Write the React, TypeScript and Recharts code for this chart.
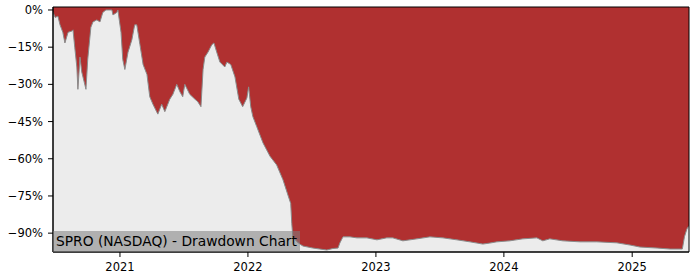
import React from "react";
import { AreaChart, Area, XAxis, YAxis, CartesianGrid, ReferenceArea } from "recharts";

const dates: string[] = [
  "2020-06-24", "2020-06-30", "2020-07-08", "2020-07-14", "2020-07-22", "2020-07-28",
  "2020-08-06", "2020-08-17", "2020-08-20", "2020-08-25", "2020-08-31", "2020-09-03",
  "2020-09-09", "2020-09-14", "2020-09-26", "2020-10-01", "2020-10-10", "2020-10-16",
  "2020-10-27", "2020-11-05", "2020-11-13", "2020-11-22", "2020-11-28", "2020-12-09",
  "2020-12-12", "2020-12-23", "2020-12-26", "2021-01-04", "2021-01-09", "2021-01-15",
  "2021-01-24", "2021-02-04", "2021-02-12", "2021-02-18", "2021-02-27", "2021-03-08",
  "2021-03-19", "2021-03-27", "2021-04-05", "2021-04-19", "2021-04-30", "2021-05-09",
  "2021-05-23", "2021-06-01", "2021-06-12", "2021-06-21", "2021-06-29", "2021-07-05",
  "2021-07-19", "2021-08-03", "2021-08-11", "2021-08-20", "2021-08-26", "2021-08-31",
  "2021-09-09", "2021-09-20", "2021-09-26", "2021-10-04", "2021-10-13", "2021-10-27",
  "2021-11-02", "2021-11-13", "2021-11-25", "2021-12-06", "2021-12-17", "2021-12-29",
  "2022-01-03", "2022-01-09", "2022-01-15", "2022-01-26", "2022-02-13", "2022-03-05",
  "2022-03-24", "2022-04-11", "2022-04-25", "2022-05-03", "2022-05-06", "2022-05-09",
  "2022-05-21", "2022-05-30", "2022-06-07", "2022-07-05", "2022-07-25", "2022-08-14",
  "2022-08-31", "2022-09-15", "2022-09-20", "2022-09-29", "2022-10-19", "2022-11-08",
  "2022-12-06", "2023-01-04", "2023-02-01", "2023-02-18", "2023-03-19", "2023-04-28",
  "2023-06-04", "2023-07-11", "2023-08-20", "2023-09-26", "2023-11-02", "2023-11-22",
  "2023-12-12", "2024-01-18", "2024-02-24", "2024-04-04", "2024-04-21", "2024-05-11",
  "2024-06-17", "2024-08-05", "2024-09-22", "2024-11-18", "2024-12-26", "2025-01-23",
  "2025-03-13", "2025-04-19", "2025-05-24", "2025-05-30", "2025-06-06", "2025-06-12",
];

const drawdown: number[] = [
  -0.8, -3, -2.5, -6, -9, -13.3,
  -9, -8.5, -8, -15, -23, -32,
  -19, -25, -32, -20, -7, -4.8,
  -4, -4.8, -1, 0, 0, 0,
  -2, -1, 0, -9, -20, -24,
  -17, -12, -6, -6, -14, -22,
  -26, -35, -38, -42, -38, -41,
  -36, -34, -30, -33, -35, -30,
  -34, -36, -37, -39, -24, -19,
  -17, -14, -13.3, -17, -21, -23,
  -21, -22, -27, -36, -39, -35.5,
  -31, -39, -43, -47, -53.6, -59,
  -62.5, -68.5, -74.6, -78, -86, -91.5,
  -93.5, -94.5, -95.2, -96, -96.4, -96.8,
  -96.2, -96, -94, -91.5, -91.5, -91.9,
  -91.9, -92.7, -91.9, -91.9, -93.1, -92.3,
  -91.5, -91.9, -92.7, -93.5, -94.4, -94,
  -93.5, -93.1, -92.3, -91.9, -93.1, -92.3,
  -93.1, -93.5, -93.5, -93.9, -94.8, -95.6,
  -96, -96.4, -96.4, -91.5, -88.3, -87,
];

const yearTicks: string[] = ["2021-01-01", "2022-01-01", "2023-01-01", "2024-01-01", "2025-01-01"];
const pctTicks: number[] = [0, -15, -30, -45, -60, -75, -90];
const title = "SPRO (NASDAQ) - Drawdown Chart";

const toTs = (d: string) => new Date(d + "T00:00:00Z").getTime();
const data = dates.map((d, i) => ({ t: toTs(d), dd: drawdown[i] }));
const xMin = toTs(dates[0]);
const xMax = toTs(dates[dates.length - 1]);
const yMin = -97.6;
const yMax = 1.2;

const FONT = "'DejaVu Sans', sans-serif";

export default function App() {
  return (
    <div style={{ position: "relative", width: 700, height: 280, background: "#fff" }}>
      <style>{"body{margin:0}"}</style>
      <AreaChart
        width={700}
        height={280}
        data={data}
        margin={{ top: 7, right: 11, bottom: 0, left: 0 }}
      >
        <CartesianGrid horizontal={false} vertical={false} fill="#ececec" />
        <XAxis
          dataKey="t"
          type="number"
          domain={[xMin, xMax]}
          allowDataOverflow
          ticks={yearTicks.map(toTs)}
          tickFormatter={(v: number) => String(new Date(v).getUTCFullYear())}
          height={28}
          tickSize={5}
          tickMargin={6}
          stroke="#000"
          tick={{ fill: "#000", fontSize: 11.5, fontFamily: FONT }}
        />
        <YAxis
          type="number"
          domain={[yMin, yMax]}
          allowDataOverflow
          ticks={pctTicks}
          tickFormatter={(v: number) => (v === 0 ? "0%" : "\u2212" + Math.abs(v) + "%")}
          width={53}
          tickSize={5}
          tickMargin={5}
          stroke="#000"
          tick={{ fill: "#000", fontSize: 11.5, fontFamily: FONT }}
        />
        <Area
          type="linear"
          dataKey="dd"
          baseValue="dataMax"
          fill="#b03030"
          fillOpacity={1}
          stroke="#8a8a8a"
          strokeWidth={1}
          isAnimationActive={false}
          dot={false}
          activeDot={false}
        />
        <ReferenceArea
          x1={xMin}
          x2={xMax}
          y1={yMin}
          y2={yMax}
          fill="none"
          fillOpacity={0}
          stroke="#000"
          strokeWidth={1}
        />
      </AreaChart>
      <div
        style={{
          position: "absolute",
          left: 53,
          top: 231,
          width: 247,
          height: 21,
          background: "rgba(128,128,128,0.55)",
          fontFamily: FONT,
          fontSize: 13.8,
          lineHeight: "21px",
          color: "#000",
          paddingLeft: 3,
          boxSizing: "border-box",
          whiteSpace: "nowrap",
        }}
      >
        {title}
      </div>
    </div>
  );
}
